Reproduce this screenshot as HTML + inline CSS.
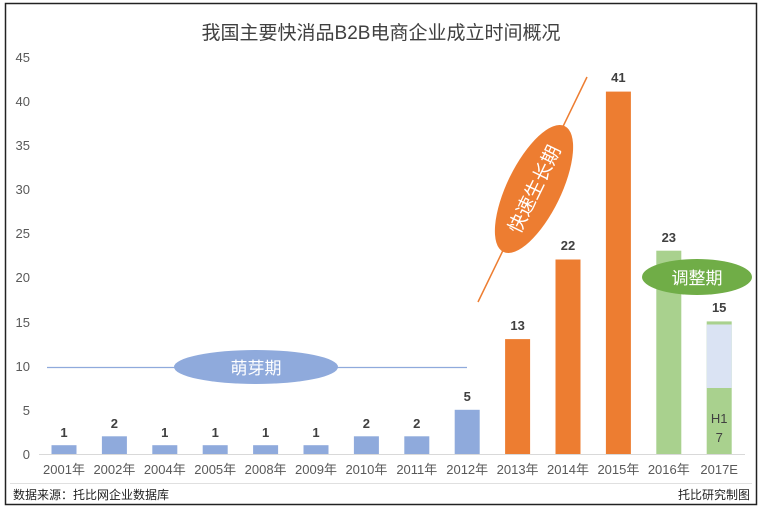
<!DOCTYPE html>
<html><head><meta charset="utf-8"><style>
body{margin:0;background:#fff;}
svg{display:block;font-family:"Liberation Sans","Noto Sans CJK SC",sans-serif;}
</style></head><body>
<svg width="763" height="513" viewBox="0 0 763 513">
<rect x="5.5" y="3.5" width="751" height="501" fill="#fff" stroke="#222" stroke-width="1.5"/>
<text x="381" y="39" text-anchor="middle" font-size="19" fill="#404040">我国主要快消品B2B电商企业成立时间概况</text>
<g font-size="13" fill="#595959" text-anchor="end">
<text x="30" y="459">0</text><text x="30" y="415">5</text><text x="30" y="371">10</text>
<text x="30" y="327">15</text><text x="30" y="282">20</text><text x="30" y="238">25</text>
<text x="30" y="194">30</text><text x="30" y="150">35</text><text x="30" y="106">40</text><text x="30" y="62">45</text>
</g>
<line x1="39" y1="454.5" x2="745" y2="454.5" stroke="#d9d9d9"/>
<line x1="10" y1="483.5" x2="752" y2="483.5" stroke="#e0e0e0"/>
<g fill="#8faadc">
<rect x="51.5" y="445.2" width="25" height="8.8"/>
<rect x="101.9" y="436.3" width="25" height="17.7"/>
<rect x="152.3" y="445.2" width="25" height="8.8"/>
<rect x="202.7" y="445.2" width="25" height="8.8"/>
<rect x="253.1" y="445.2" width="25" height="8.8"/>
<rect x="303.5" y="445.2" width="25" height="8.8"/>
<rect x="353.9" y="436.3" width="25" height="17.7"/>
<rect x="404.3" y="436.3" width="25" height="17.7"/>
<rect x="454.7" y="409.8" width="25" height="44.2"/>
</g>
<g fill="#ed7d31">
<rect x="505.1" y="339.1" width="25" height="114.9"/>
<rect x="555.5" y="259.5" width="25" height="194.5"/>
<rect x="605.9" y="91.6" width="25" height="362.4"/>
</g>
<rect x="656.3" y="250.7" width="25" height="203.3" fill="#a9d18e"/>
<rect x="706.7" y="321.4" width="25" height="132.6" fill="#a9d18e"/>
<rect x="706.7" y="324.5" width="25" height="63.5" fill="#dae3f3"/>
<g font-size="13" font-weight="bold" fill="#404040" text-anchor="middle">
<text x="64" y="437">1</text><text x="114.4" y="428">2</text><text x="164.8" y="437">1</text>
<text x="215.2" y="437">1</text><text x="265.6" y="437">1</text><text x="316" y="437">1</text>
<text x="366.4" y="428">2</text><text x="416.8" y="428">2</text><text x="467.2" y="401">5</text>
<text x="517.6" y="330">13</text><text x="568" y="250">22</text><text x="618.4" y="82">41</text>
<text x="668.8" y="242">23</text><text x="719.2" y="312">15</text>
</g>
<text x="719.2" y="423" font-size="13" fill="#404040" text-anchor="middle">H1</text>
<text x="719.2" y="442" font-size="13" fill="#404040" text-anchor="middle">7</text>
<g font-size="13" fill="#595959" text-anchor="middle">
<text x="64" y="474">2001年</text><text x="114.4" y="474">2002年</text><text x="164.8" y="474">2004年</text>
<text x="215.2" y="474">2005年</text><text x="265.6" y="474">2008年</text><text x="316" y="474">2009年</text>
<text x="366.4" y="474">2010年</text><text x="416.8" y="474">2011年</text><text x="467.2" y="474">2012年</text>
<text x="517.6" y="474">2013年</text><text x="568" y="474">2014年</text><text x="618.4" y="474">2015年</text>
<text x="668.8" y="474">2016年</text><text x="719.2" y="474">2017E</text>
</g>
<text x="13" y="499" font-size="12" fill="#222">数据来源：托比网企业数据库</text>
<text x="750" y="499" font-size="12" fill="#222" text-anchor="end">托比研究制图</text>
<line x1="47" y1="367.5" x2="467" y2="367.5" stroke="#8faadc" stroke-width="1.2"/>
<ellipse cx="256" cy="367" rx="82" ry="17" fill="#8faadc"/>
<text x="256" y="374" font-size="17" fill="#fff" text-anchor="middle">萌芽期</text>
<line x1="478" y1="302" x2="587" y2="77" stroke="#ed7d31" stroke-width="1.5"/>
<g transform="translate(534,189) rotate(-64)">
<ellipse cx="0" cy="0" rx="70" ry="27" fill="#ed7d31"/>
<text x="0" y="7" font-size="19" fill="#fff" text-anchor="middle">快速生长期</text>
</g>
<ellipse cx="697" cy="277" rx="55" ry="18" fill="#70ad47"/>
<text x="697" y="284" font-size="17" fill="#fff" text-anchor="middle">调整期</text>
</svg>
</body></html>
